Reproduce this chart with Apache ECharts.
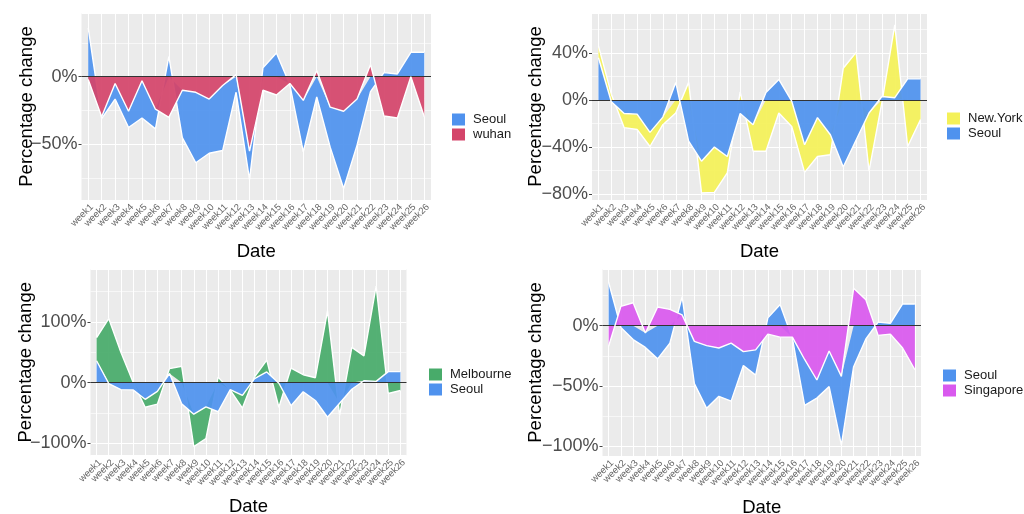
<!DOCTYPE html>
<html><head><meta charset="utf-8">
<script src="https://cdn.jsdelivr.net/npm/echarts@6/dist/echarts.min.js"></script>
<style>html,body{margin:0;padding:0;background:#fff}#c{width:1024px;height:514px}</style>
</head><body><div id="c"></div>
<script>
const weeks = ['week1','week2','week3','week4','week5','week6','week7','week8','week9','week10','week11','week12','week13',
  'week14','week15','week16','week17','week18','week19','week20','week21','week22','week23','week24','week25','week26'];
const seoul     = [36, -1.5, -11.5, -12, -27.5, -14.5, 15, -35, -52, -40, -48, -11.5, -21, 6.5, 17.5, -1, -38, -15, -29.5, -57, -34, -11, 3, 2, 18, 18];
const wuhan     = [-2, -29.5, -5, -25.5, -3, -24, -30, -10, -11.5, -16.5, -6.5, 1.5, -55, -10, -13.5, -5, -17.5, 4.5, -22.5, -25.5, -16.5, 9, -29, -30.5, 0, -29.5];
const newYork   = [10, 5, -12, -13, -12, -6.5, -11, 15, -27, -38.5, -14, 7, -22.5, -43.5, -11, -21.5, -23.5, -33, -17, 27, 40.5, -49.5, -2, 62, -39.5, -16.5];
const melbourne = [38, 105.5, 50, 1, -13, -21, 8, 27, -53.5, -52, 9, -1, -21, 3, 19.5, -39.5, 24, 13, 8, 118, -20, 58, 41, 157, -18, -13];
const singapore = [-17, 16, 19, -6, 15.5, 13.5, 9, -13, -16.5, -18.5, -14.5, -21.5, -20, -7, -9.5, -9.5, -28, -45, -21, -42, 31, 21.5, -8, -7, -18.5, -36.5];
const yTicksP1 = [-50, 0];
const yTicksP2 = [-80, -40, 0, 40];
const yTicksP3 = [-100, 0, 100];
const yTicksP4 = [-100, -50, 0];

const COL = {Seoul:'#4f92ee', wuhan:'#d4456a', 'New.York':'#f4f158', Melbourne:'#48ab6a', Singapore:'#d959ee'};
const FONT = 'Liberation Sans, Arial, sans-serif';

const panels = [
  {grid:{left:81.5, top:13, width:349.5, height:187}, ext:[-91,47], ticks:yTicksP1, step:50,
   bottom:['wuhan', wuhan], top:['Seoul', seoul], legend:['Seoul','wuhan'], lpos:{left:447, top:108}, ygap:45},
  {grid:{left:592, top:13, width:335, height:187}, ext:[-85,74], ticks:yTicksP2, step:40,
   bottom:['Seoul', seoul], top:['New.York', newYork], legend:['New.York','Seoul'], lpos:{left:942, top:107}, ygap:47},
  {grid:{left:90.5, top:269, width:316, height:186.5}, ext:[-120,187], ticks:yTicksP3, step:100,
   bottom:['Seoul', seoul], top:['Melbourne', melbourne], legend:['Melbourne','Seoul'], lpos:{left:424, top:363}, ygap:55},
  {grid:{left:602.5, top:269, width:318.5, height:187}, ext:[-108,47], ticks:yTicksP4, step:50,
   bottom:['Singapore', singapore], top:['Seoul', seoul], legend:['Seoul','Singapore'], lpos:{left:938, top:364}, ygap:57}
];

function fmt(v){ return (v < 0 ? '\u2212' : '') + Math.abs(v) + '%'; }

const option = {animation:false, backgroundColor:'#fff', grid:[], xAxis:[], yAxis:[], series:[], legend:[]};
panels.forEach((p, k) => {
  option.grid.push(Object.assign({show:true, backgroundColor:'#ebebeb', borderWidth:0, containLabel:false, outerBoundsMode:'none'}, p.grid));
  option.xAxis.push({
    type:'category', gridIndex:k, data:weeks, boundaryGap:true,
    name:'Date', nameLocation:'middle', nameGap:42, nameMoveOverlap:false,
    nameTextStyle:{fontSize:18.5, color:'#000', fontFamily:FONT},
    axisLine:{show:false, onZero:false},
    axisTick:{show:false},
    axisLabel:{interval:0, rotate:45, fontSize:9.5, color:'#666', fontFamily:FONT, margin:2, verticalAlign:'top'},
    splitLine:{show:true, interval:0, alignWithLabel:true, lineStyle:{color:'#fff', width:1}}
  });
  option.yAxis.push({
    type:'value', gridIndex:k, min:p.ext[0], max:p.ext[1], minInterval:p.step, maxInterval:p.step,
    name:'Percentage change', nameLocation:'middle', nameGap:p.ygap, nameMoveOverlap:false,
    nameTextStyle:{fontSize:18.5, color:'#000', fontFamily:FONT},
    axisLine:{show:false},
    axisTick:{show:true, length:3, lineStyle:{color:'#444'}},
    axisLabel:{fontSize:18, color:'#4d4d4d', fontFamily:FONT, margin:4, showMinLabel:false, showMaxLabel:false,
      formatter: v => p.ticks.indexOf(v) >= 0 ? fmt(v) : ''},
    splitLine:{show:true, lineStyle:{color:'#fff', width:1.2}},
    minorTick:{show:false, splitNumber:2},
    minorSplitLine:{show:true, lineStyle:{color:'#fff', width:0.6}}
  });
  // filled ribbons, stacked by ECharts with same-sign stacking
  const fill = (s, z) => ({
    type:'line', name:s[0], data:s[1], xAxisIndex:k, yAxisIndex:k, stack:'fill'+k, stackStrategy:'samesign',
    symbol:'none', showSymbol:false, z:z, silent:true,
    lineStyle:{width:0, opacity:0},
    itemStyle:{color:COL[s[0]]},
    areaStyle:{color:COL[s[0]], opacity:0.93}
  });
  // white outlines, stacked the same way
  const outline = (s, z, withZero) => {
    const o = {
      type:'line', name:s[0] + ' outline', data:s[1], xAxisIndex:k, yAxisIndex:k, stack:'line'+k, stackStrategy:'samesign',
      symbol:'none', showSymbol:false, z:z, silent:true,
      lineStyle:{color:'#ffffff', width:1.4}, itemStyle:{color:'#ffffff'}
    };
    if (withZero) o.markLine = {silent:true, symbol:'none', label:{show:false}, animation:false,
      lineStyle:{color:'#333', width:1, type:'solid'}, data:[{yAxis:0}]};
    return o;
  };
  option.series.push(fill(p.bottom, 4));
  option.series.push(fill(p.top, 2));
  option.series.push(outline(p.bottom, 5, true));
  option.series.push(outline(p.top, 3, false));
  option.legend.push({
    orient:'vertical', left:p.lpos.left, top:p.lpos.top, itemWidth:13, itemHeight:12, itemGap:2, icon:'rect',
    selectedMode:false,
    data:p.legend.map(n => ({name:n, itemStyle:{color:COL[n], borderWidth:0}})),
    textStyle:{fontSize:13, color:'#1a1a1a', fontFamily:FONT, padding:[0,0,0,3]}
  });
});

const chart = echarts.init(document.getElementById('c'), null, {renderer:'canvas'});
chart.setOption(option);
</script></body></html>
